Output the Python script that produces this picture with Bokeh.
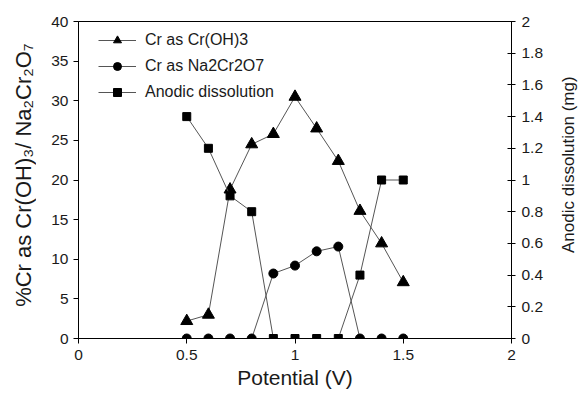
import math
from bokeh.plotting import figure
from bokeh.layouts import row
from bokeh.models import Range1d, LinearAxis, FixedTicker, CustomJSTickFormatter, Legend, LegendItem
from bokeh.core.properties import value
from bokeh.embed import file_html
from bokeh.resources import INLINE

potential = [0.5, 0.6, 0.7, 0.8, 0.9, 1.0, 1.1, 1.2, 1.3, 1.4, 1.5]
cr_oh3 = [2.2, 3.0, 18.8, 24.5, 25.8, 30.5, 26.5, 22.4, 16.1, 12.0, 7.1]
na2cr2o7 = [0, 0, 0, 0, 8.2, 9.2, 11.0, 11.6, 0, 0, 0]
anodic = [1.4, 1.2, 0.9, 0.8, 0, 0, 0, 0, 0.4, 1.0, 1.0]

x_ticks = [0, 0.5, 1, 1.5, 2]
y_ticks = [0, 5, 10, 15, 20, 25, 30, 35, 40]
y2_ticks = [0, 0.2, 0.4, 0.6, 0.8, 1.0, 1.2, 1.4, 1.6, 1.8, 2.0]

x_title = "Potential (V)"
y_title = "%Cr as Cr(OH)\u2083/ Na\u2082Cr\u2082O\u2087"
y2_title = "Anodic dissolution (mg)"
legend_labels = ["Cr as Cr(OH)3", "Cr as Na2Cr2O7", "Anodic dissolution"]

FONT = "Liberation Sans"
TXT = "#1a1a1a"
LINE = "#555555"
H = 394
LW, RW = 36, 23
PW = 580 - LW - RW

p = figure(width=PW, height=H, output_backend="svg", toolbar_location=None,
           x_range=Range1d(0, 2), y_range=Range1d(0, 40),
           min_border_left=78 - LW, min_border_right=(580 - RW) - 511,
           min_border_top=21, min_border_bottom=56)
p.extra_y_ranges = {"right": Range1d(0, 2)}
p.grid.visible = False
p.outline_line_color = "black"
p.outline_line_width = 1

fmt = CustomJSTickFormatter(code="return (Math.round(tick*10)/10).toString();")

p.xaxis.ticker = FixedTicker(ticks=x_ticks)
p.xaxis.formatter = fmt
p.xaxis.axis_label = x_title
p.yaxis.ticker = FixedTicker(ticks=y_ticks)

ax2 = LinearAxis(y_range_name="right", ticker=FixedTicker(ticks=y2_ticks), formatter=fmt)
p.add_layout(ax2, "right")

for ax in [p.xaxis[0], p.yaxis[0], ax2]:
    ax.major_label_text_font = FONT
    ax.major_label_text_font_size = "15.5px"
    ax.major_label_text_color = TXT
    ax.axis_label_text_font = FONT
    ax.axis_label_text_font_style = "normal"
    ax.axis_label_text_color = TXT
    ax.axis_line_color = "black"
    ax.major_tick_line_color = "black"
    ax.minor_tick_line_color = None
    ax.major_tick_out = 5
    ax.major_tick_in = 0

p.xaxis[0].axis_label_text_font_size = "21px"
p.xaxis[0].major_label_standoff = 6
p.xaxis[0].axis_label_standoff = 3
ax2.major_tick_in = 4
ax2.major_tick_out = 4
ax2.major_label_standoff = 6

l1 = p.line(potential, cr_oh3, line_color=LINE, line_width=1)
m1 = p.scatter(potential, cr_oh3, marker="triangle", size=12, fill_color="black", line_color="black")
l2 = p.line(potential, na2cr2o7, line_color=LINE, line_width=1)
m2 = p.scatter(potential, na2cr2o7, marker="circle", size=9, fill_color="black", line_color="black")
l3 = p.line(potential, anodic, line_color=LINE, line_width=1, y_range_name="right")
m3 = p.scatter(potential, anodic, marker="square", size=8, fill_color="black", line_color="black",
               y_range_name="right")

legend = Legend(items=[
    LegendItem(label=legend_labels[0], renderers=[l1, m1]),
    LegendItem(label=legend_labels[1], renderers=[l2, m2]),
    LegendItem(label=legend_labels[2], renderers=[l3, m3]),
], location=(20, 236))
legend.border_line_color = None
legend.background_fill_alpha = 0
legend.padding = 7
legend.margin = 0
legend.spacing = 6
legend.glyph_width = 38
legend.label_standoff = 9
legend.label_text_font = FONT
legend.label_text_font_size = "16px"
legend.label_text_color = TXT
p.add_layout(legend, "center")


def side_title(width, text, cx, cy, size):
    s = figure(width=width, height=H, output_backend="svg", toolbar_location=None,
               x_range=Range1d(0, width), y_range=Range1d(0, H),
               x_axis_location=None, y_axis_location=None, min_border=0)
    s.min_border_left = s.min_border_right = s.min_border_top = s.min_border_bottom = 0
    s.outline_line_color = None
    s.grid.visible = False
    s.text(x=[cx], y=[H - cy], text=[text], angle=math.pi / 2, text_align="center",
           text_baseline="middle", text_font=value(FONT), text_font_size=size, text_color=TXT)
    return s


left = side_title(LW, y_title, 23, 191, "22px")
right = side_title(RW, y2_title, 568 - (580 - RW), 178, "17px")

layout = row(left, p, right, spacing=0)
open("out.html", "w").write(file_html(layout, INLINE))
